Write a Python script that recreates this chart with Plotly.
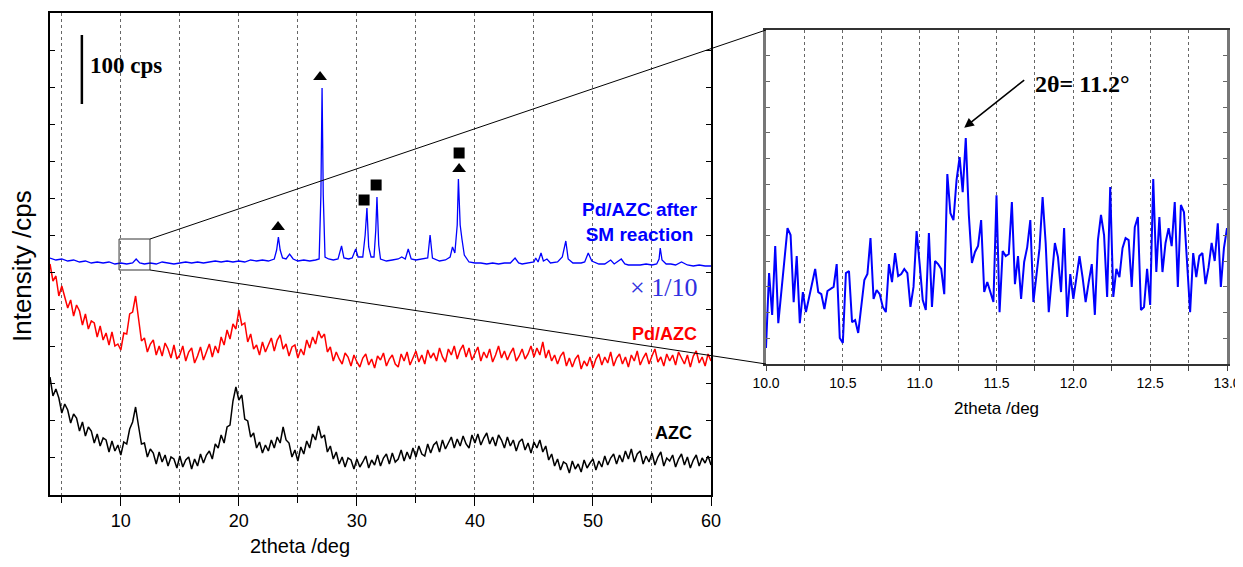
import numpy as np
import plotly.graph_objects as go

# ---- data -----------------------------------------------------------------
# broad patterns are sampled every 0.25 deg from 4 to 60 deg (offset units)
TT_START, TT_STEP = 4.0, 0.25

pd_azc = [
    231, 214, 219, 199, 209, 198, 187, 195, 179, 190, 184, 170, 181, 166, 174, 172, 158, 169, 155, 162,
    150, 163, 149, 151, 145, 162, 161, 181, 183, 199, 176, 154, 157, 143, 151, 155, 140, 149, 139, 152,
    146, 137, 150, 136, 140, 149, 134, 143, 147, 132, 139, 148, 135, 144, 151, 138, 149, 142, 158, 150,
    165, 156, 171, 166, 185, 170, 172, 153, 161, 146, 150, 140, 153, 143, 150, 157, 144, 155, 160, 146,
    151, 139, 148, 150, 137, 146, 140, 155, 147, 158, 151, 164, 157, 161, 143, 148, 134, 143, 136, 131,
    142, 138, 129, 140, 133, 128, 137, 141, 130, 136, 127, 139, 135, 142, 129, 136, 140, 131, 128, 141,
    134, 143, 130, 138, 144, 133, 140, 131, 145, 137, 142, 134, 147, 138, 133, 146, 140, 149, 136, 145,
    150, 138, 147, 135, 141, 148, 134, 143, 137, 146, 133, 140, 149, 137, 144, 135, 142, 147, 134, 139,
    146, 136, 141, 149, 138, 147, 140, 153, 137, 145, 134, 140, 131, 139, 143, 129, 137, 128, 136, 140,
    126, 134, 129, 138, 127, 136, 141, 130, 138, 132, 143, 129, 137, 141, 131, 138, 128, 140, 134, 144,
    130, 137, 142, 131, 139, 146, 133, 138, 129, 141, 134, 140, 130, 143, 137, 131, 140, 128, 139, 144,
    132, 138, 129, 141, 134,
]

azc = [
    118, 99, 106, 97, 82, 91, 85, 72, 81, 77, 64, 73, 59, 68, 64, 52, 61, 49, 57, 55,
    43, 54, 44, 50, 40, 53, 51, 66, 73, 88, 69, 51, 52, 38, 46, 42, 31, 43, 33, 40,
    29, 38, 36, 27, 39, 28, 35, 38, 26, 36, 29, 41, 32, 40, 44, 36, 51, 47, 60, 52,
    68, 70, 94, 108, 95, 100, 76, 74, 58, 62, 47, 53, 42, 50, 44, 55, 47, 58, 52, 68,
    55, 52, 38, 45, 34, 48, 41, 54, 47, 61, 55, 69, 57, 60, 43, 49, 36, 43, 31, 38,
    28, 37, 35, 26, 36, 28, 33, 39, 27, 35, 30, 40, 29, 37, 41, 31, 42, 33, 36, 45,
    34, 43, 36, 47, 38, 49, 41, 39, 51, 42, 50, 53, 43, 55, 46, 52, 58, 47, 56, 49,
    59, 51, 47, 60, 52, 61, 50, 57, 62, 51, 58, 49, 60, 55, 47, 58, 49, 55, 44, 53,
    56, 45, 52, 42, 53, 47, 55, 43, 49, 35, 41, 29, 36, 25, 33, 31, 22, 34, 26, 31,
    23, 35, 27, 32, 36, 25, 34, 28, 39, 30, 37, 41, 31, 40, 33, 44, 36, 46, 33, 41,
    44, 31, 39, 33, 42, 30, 38, 43, 29, 37, 34, 40, 28, 36, 41, 30, 38, 27, 35, 40,
    29, 37, 32, 39, 30,
]

# Pd/AZC after SM reaction (x1/10), (2theta, intensity)
after_sm = [
    (4.0, 237), (4.5, 235), (5.0, 236), (5.5, 234), (6.0, 235), (6.5, 233), (7.0, 234), (7.5, 232),
    (8.0, 233), (8.5, 232), (9.0, 233), (9.5, 231), (10.0, 232), (10.5, 231), (11.0, 232), (11.3, 236),
    (11.6, 232), (12.0, 231), (12.5, 232), (13.0, 231), (13.5, 233), (14.0, 232), (14.5, 231), (15.0, 232),
    (15.5, 233), (16.0, 232), (16.5, 233), (17.0, 232), (17.5, 233), (18.0, 234), (18.5, 233), (19.0, 234),
    (19.5, 233), (20.0, 234), (20.5, 233), (21.0, 235), (21.5, 234), (22.0, 235), (22.5, 234), (23.0, 236),
    (23.2, 245), (23.35, 258), (23.5, 245), (23.7, 237), (24.0, 236), (24.3, 241), (24.6, 236), (25.0, 234),
    (25.5, 235), (26.0, 234), (26.5, 235), (26.8, 236), (26.95, 300), (27.05, 407), (27.15, 300), (27.3, 238),
    (27.6, 236), (28.0, 235), (28.4, 236), (28.7, 249), (28.9, 237), (29.3, 236), (29.6, 237), (29.9, 246),
    (30.1, 238), (30.5, 238), (30.7, 260), (30.85, 287), (31.0, 248), (31.2, 238), (31.45, 238), (31.6, 265),
    (31.7, 298), (31.85, 250), (32.0, 236), (32.5, 234), (33.0, 235), (33.5, 236), (33.8, 238), (34.1, 236),
    (34.35, 246), (34.6, 236), (35.0, 235), (35.5, 236), (36.0, 237), (36.2, 260), (36.4, 237), (37.0, 234),
    (37.5, 235), (37.9, 238), (38.1, 248), (38.3, 242), (38.5, 270), (38.6, 316), (38.75, 270), (38.9, 256),
    (39.1, 240), (39.5, 233), (40.0, 232), (40.5, 232), (41.0, 231), (41.5, 232), (42.0, 231), (42.5, 232),
    (43.0, 232), (43.4, 237), (43.7, 232), (44.0, 231), (44.5, 232), (45.0, 233), (45.15, 237), (45.35, 233),
    (45.6, 242), (45.8, 234), (46.1, 236), (46.4, 232), (47.0, 233), (47.4, 238), (47.7, 254), (47.9, 236),
    (48.3, 232), (49.0, 232), (49.3, 233), (49.6, 242), (49.9, 234), (50.5, 231), (51.0, 231), (51.5, 235),
    (51.8, 231), (52.4, 236), (52.7, 231), (53.0, 230), (53.5, 230), (54.0, 230), (54.5, 231), (55.0, 230),
    (55.4, 231), (55.6, 236), (55.7, 247), (55.85, 235), (56.2, 231), (56.6, 231), (57.0, 230), (57.5, 233),
    (58.0, 230), (58.5, 229), (59.0, 230), (59.5, 229), (60.0, 229),
]

# phase markers above the peaks
tri_x = [23.32, 26.88, 38.66]
tri_y = [268, 418, 326]
sq_x = [30.61, 31.63, 38.66]
sq_y = [295, 310, 342]

# enlarged region 10-13 deg of the after-reaction pattern
zoom_scan = [
    (10.00, 6.2), (10.02, 35.4), (10.04, 19.1), (10.06, 45.9), (10.08, 15.9), (10.14, 52.9), (10.16, 50.2),
    (10.18, 24.1), (10.20, 42.0), (10.22, 15.9), (10.24, 28.0), (10.26, 20.2), (10.32, 37.0), (10.34, 28.0),
    (10.36, 27.2), (10.38, 21.4), (10.40, 28.4), (10.44, 30.0), (10.46, 38.9), (10.48, 10.1), (10.50, 8.2),
    (10.52, 35.4), (10.54, 36.2), (10.56, 16.3), (10.58, 17.1), (10.60, 12.1), (10.64, 32.7), (10.66, 35.0),
    (10.68, 49.0), (10.70, 25.3), (10.72, 28.8), (10.74, 27.2), (10.76, 22.2), (10.78, 20.2), (10.80, 38.9),
    (10.82, 31.9), (10.84, 43.2), (10.86, 34.2), (10.88, 35.0), (10.90, 37.0), (10.92, 35.4), (10.94, 22.2),
    (10.96, 30.0), (10.98, 51.7), (11.00, 38.9), (11.02, 24.9), (11.04, 21.0), (11.06, 51.0), (11.08, 22.2),
    (11.10, 40.1), (11.12, 38.9), (11.14, 37.0), (11.16, 27.2), (11.18, 73.9), (11.20, 58.7), (11.22, 56.0),
    (11.24, 71.6), (11.26, 80.5), (11.28, 66.9), (11.30, 87.9), (11.32, 58.0), (11.34, 39.3), (11.36, 43.6),
    (11.38, 45.9), (11.40, 56.0), (11.42, 28.0), (11.44, 31.9), (11.46, 28.0), (11.48, 24.1), (11.50, 65.7),
    (11.52, 20.2), (11.54, 44.0), (11.56, 42.0), (11.58, 42.8), (11.60, 63.0), (11.62, 31.1), (11.64, 42.0),
    (11.66, 25.3), (11.68, 39.7), (11.70, 45.5), (11.72, 56.0), (11.74, 24.1), (11.76, 33.8), (11.78, 45.1),
    (11.80, 65.0), (11.82, 47.1), (11.84, 20.2), (11.86, 35.4), (11.88, 47.1), (11.90, 41.6), (11.92, 28.0),
    (11.94, 52.9), (11.96, 18.3), (11.98, 35.0), (12.00, 25.3), (12.02, 33.5), (12.04, 42.0), (12.06, 33.8),
    (12.08, 24.1), (12.10, 31.9), (12.12, 38.9), (12.14, 19.1), (12.16, 48.2), (12.18, 58.0), (12.20, 50.2),
    (12.22, 26.1), (12.24, 68.9), (12.26, 26.1), (12.28, 37.0), (12.30, 33.8), (12.32, 45.1), (12.34, 49.0),
    (12.36, 48.2), (12.38, 30.0), (12.40, 53.3), (12.42, 57.2), (12.44, 21.0), (12.46, 22.2), (12.48, 37.0),
    (12.50, 23.0), (12.52, 72.0), (12.54, 35.8), (12.56, 57.2), (12.58, 35.8), (12.60, 47.1), (12.62, 52.9),
    (12.64, 45.9), (12.66, 63.0), (12.68, 30.0), (12.70, 61.9), (12.72, 59.1), (12.76, 20.2), (12.78, 43.2),
    (12.80, 33.8), (12.82, 42.0), (12.84, 43.2), (12.86, 31.1), (12.88, 37.7), (12.90, 47.1), (12.92, 40.1),
    (12.94, 54.8), (12.96, 30.0), (12.98, 45.1), (13.00, 52.9),
]

# zoom box drawn on the main pattern (2theta range, intensity range)
zoom_box_x = [9.85, 12.47]
zoom_box_y = [225, 256]

# ---- layout ---------------------------------------------------------------
# the page body has an 8px margin, so the figure is drawn 8px in from the corner
OFF = 8
W, H = 1243 - OFF, 567 - OFF


def px_x(px):
    return (px - OFF) / W


def px_y(py):
    return 1 - (py - OFF) / H


MAIN_X = [px_x(50), px_x(711)]
MAIN_Y = [px_y(495), px_y(13)]
INSET_X = [px_x(766), px_x(1227)]
INSET_Y = [px_y(364), px_y(30)]
MAIN_RANGE_X = [4, 60]
MAIN_RANGE_Y = [0, 482]
INSET_RANGE_X = [10, 13]
INSET_RANGE_Y = [0, 130]

SANS = "Liberation Sans, Arial, sans-serif"
SERIF = "Liberation Serif, Times New Roman, serif"


def to_paper(x, y):
    fx = (x - MAIN_RANGE_X[0]) / (MAIN_RANGE_X[1] - MAIN_RANGE_X[0])
    fy = (y - MAIN_RANGE_Y[0]) / (MAIN_RANGE_Y[1] - MAIN_RANGE_Y[0])
    return (MAIN_X[0] + fx * (MAIN_X[1] - MAIN_X[0]),
            MAIN_Y[0] + fy * (MAIN_Y[1] - MAIN_Y[0]))


two_theta = TT_START + TT_STEP * np.arange(len(azc))
two_theta_pd = TT_START + TT_STEP * np.arange(len(pd_azc))
after_x, after_y = zip(*after_sm)
zoom_x, zoom_y = zip(*zoom_scan)

fig = go.Figure()
fig.add_trace(go.Scatter(x=two_theta, y=azc, mode="lines", line=dict(color="black", width=1.5)))
fig.add_trace(go.Scatter(x=two_theta_pd, y=pd_azc, mode="lines", line=dict(color="#ff0000", width=1.5)))
fig.add_trace(go.Scatter(x=list(after_x), y=list(after_y), mode="lines", line=dict(color="#0000ff", width=1.3)))
fig.add_trace(go.Scatter(x=tri_x, y=tri_y, mode="markers",
                         marker=dict(symbol="triangle-up", size=12, color="black")))
fig.add_trace(go.Scatter(x=sq_x, y=sq_y, mode="markers",
                         marker=dict(symbol="square", size=11, color="black")))
fig.add_trace(go.Scatter(x=list(zoom_x), y=list(zoom_y), mode="lines", xaxis="x2", yaxis="y2",
                         line=dict(color="#0000ff", width=2)))

grid = dict(showgrid=True, gridcolor="#666", gridwidth=1, griddash="dot")

fig.update_layout(
    width=W, height=H, margin=dict(l=0, r=0, t=0, b=0), autosize=False,
    paper_bgcolor="white", plot_bgcolor="white", showlegend=False,
    font=dict(family=SANS, color="black"),
    xaxis=dict(
        domain=MAIN_X, range=MAIN_RANGE_X, dtick=10, tick0=0, ticks="outside", ticklen=9, tickwidth=1.3,
        tickcolor="black", showline=True, linecolor="black", linewidth=1.5, mirror=True, zeroline=False,
        tickfont=dict(size=18, family=SANS), automargin=False,
        minor=dict(dtick=5, tick0=0, ticks="outside", ticklen=6, tickcolor="black", **grid), **grid,
    ),
    yaxis=dict(
        domain=MAIN_Y, range=MAIN_RANGE_Y, dtick=482 / 13, tick0=0, ticks="inside", ticklen=5,
        tickcolor="black", showticklabels=False, showline=True, linecolor="black", linewidth=1.5,
        mirror="ticks", zeroline=False, showgrid=False, automargin=False,
    ),
    xaxis2=dict(
        domain=INSET_X, range=INSET_RANGE_X, anchor="y2", dtick=0.5, tick0=10, tickformat=".1f",
        ticks="outside", ticklen=5, tickcolor="#444", showline=True, linecolor="#333", linewidth=1.5,
        mirror=True, zeroline=False, tickfont=dict(size=14, family=SANS), automargin=False,
        minor=dict(dtick=0.25, tick0=10, ticks="outside", ticklen=5, tickcolor="#444", **grid), **grid,
    ),
    yaxis2=dict(
        domain=INSET_Y, range=INSET_RANGE_Y, anchor="x2", dtick=10, tick0=0, ticks="inside", ticklen=4,
        tickcolor="#666", showticklabels=False, showline=True, linecolor="#777", linewidth=2.5,
        mirror="ticks", zeroline=False, showgrid=False, automargin=False,
    ),
)

# zoom box and the two guide lines to the inset
fig.add_shape(type="rect", xref="x", yref="y", x0=zoom_box_x[0], x1=zoom_box_x[1],
              y0=zoom_box_y[0], y1=zoom_box_y[1], line=dict(color="#333", width=1))
bx, by_top = to_paper(zoom_box_x[1], zoom_box_y[1])
_, by_bot = to_paper(zoom_box_x[1], zoom_box_y[0])
fig.add_shape(type="line", xref="paper", yref="paper", x0=bx, y0=by_top, x1=INSET_X[0], y1=INSET_Y[1],
              line=dict(color="black", width=1))
fig.add_shape(type="line", xref="paper", yref="paper", x0=bx, y0=by_bot, x1=INSET_X[0], y1=INSET_Y[0],
              line=dict(color="black", width=1))

# 100 cps scale bar
fig.add_shape(type="line", xref="x", yref="y", x0=6.7, x1=6.7, y0=391, y1=460,
              line=dict(color="black", width=2.5))
fig.add_annotation(x=7.2, y=429, xref="x", yref="y", text="<b>100 cps</b>", showarrow=False,
                   xanchor="left", yanchor="middle", font=dict(family=SERIF, size=23, color="black"))

# series labels
fig.add_annotation(x=54.0, y=273, xref="x", yref="y", text="<b>Pd/AZC after<br>SM reaction</b>",
                   showarrow=False, align="center", xanchor="center", yanchor="middle",
                   font=dict(size=19, color="#0000ff"))
fig.add_annotation(x=56.0, y=207, xref="x", yref="y", text="\u00d7 1/10", showarrow=False,
                   xanchor="center", yanchor="middle", font=dict(family=SERIF, size=26, color="#3030e0"))
fig.add_annotation(x=59.0, y=161, xref="x", yref="y", text="<b>Pd/AZC</b>", showarrow=False,
                   xanchor="right", yanchor="middle", font=dict(size=18, color="#ff0000"))
fig.add_annotation(x=58.6, y=62, xref="x", yref="y", text="<b>AZC</b>", showarrow=False,
                   xanchor="right", yanchor="middle", font=dict(size=18, color="black"))

# axis titles
fig.add_annotation(x=px_x(300), y=px_y(546), xref="paper", yref="paper", text="2theta /deg",
                   showarrow=False, xanchor="center", yanchor="middle", font=dict(size=20))
fig.add_annotation(x=px_x(22), y=px_y(266), xref="paper", yref="paper", text="Intensity /cps",
                   showarrow=False, textangle=-90, xanchor="center", yanchor="middle", font=dict(size=26))
fig.add_annotation(x=px_x(996), y=px_y(408), xref="paper", yref="paper", text="2theta /deg",
                   showarrow=False, xanchor="center", yanchor="middle", font=dict(size=17))

# inset peak callout
fig.add_annotation(x=11.29, y=92, xref="x2", yref="y2", ax=11.69, ay=111, axref="x2", ayref="y2",
                   text="", showarrow=True, arrowhead=2, arrowsize=1.2, arrowwidth=1.6, arrowcolor="black")
fig.add_annotation(x=11.74, y=109, xref="x2", yref="y2", text="<b>2\u03b8= 11.2\u00b0</b>",
                   showarrow=False, xanchor="left", yanchor="middle",
                   font=dict(family=SERIF, size=24, color="black"))

fig.write_html("out.html")
